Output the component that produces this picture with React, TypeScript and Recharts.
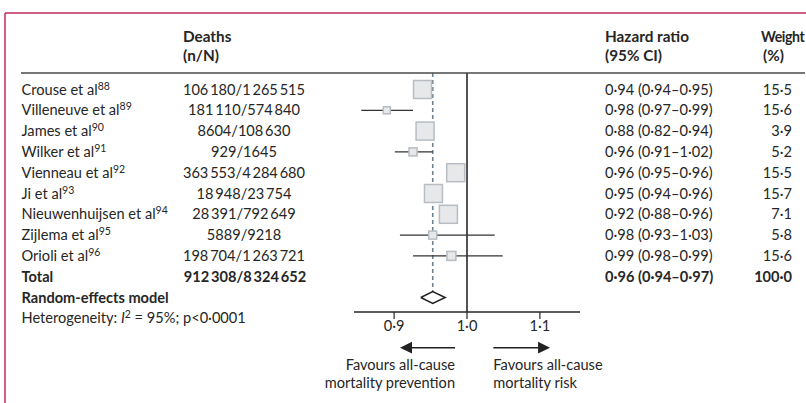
import React from 'react';
import { ComposedChart, Scatter, ErrorBar, XAxis, YAxis, ReferenceLine } from 'recharts';

// table text, as printed
const studyNames = [
  'Crouse et al',
  'Villeneuve et al',
  'James et al',
  'Wilker et al',
  'Vienneau et al',
  'Ji et al',
  'Nieuwenhuijsen et al',
  'Zijlema et al',
  'Orioli et al',
];
const studyRefs = ['88', '89', '90', '91', '92', '93', '94', '95', '96'];
const deathCounts = [
  '106 180/1 265 515',
  '181 110/574 840',
  '8604/108 630',
  '929/1645',
  '363 553/4 284 680',
  '18 948/23 754',
  '28 391/792 649',
  '5889/9218',
  '198 704/1 263 721',
];
const hrLabels = [
  '0·94 (0·94–0·95)',
  '0·98 (0·97–0·99)',
  '0·88 (0·82–0·94)',
  '0·96 (0·91–1·02)',
  '0·96 (0·95–0·96)',
  '0·95 (0·94–0·96)',
  '0·92 (0·88–0·96)',
  '0·98 (0·93–1·03)',
  '0·99 (0·98–0·99)',
];
const weights = ['15·5', '15·6', '3·9', '5·2', '15·5', '15·7', '7·1', '5·8', '15·6'];

const totalDeaths = '912 308/8 324 652';
const totalHr = '0·96 (0·94–0·97)';
const totalWeight = '100·0';

// where the marks sit on the plot
const hrPlotted = [0.939, 0.89, 0.9425, 0.926, 0.9845, 0.954, 0.9745, 0.953, 0.9786];
const ciLowPlotted = [0.934, 0.855, 0.936, 0.901, 0.979, 0.948, 0.969, 0.908, 0.926];
const ciHighPlotted = [0.945, 0.926, 0.949, 0.953, 0.99, 0.96, 0.98, 1.038, 1.049];
const pooledHr = 0.953;
const pooledLow = 0.9366;
const pooledHigh = 0.97;

const xTicks = [0.9, 1.0, 1.1];

// styling
const FONT = 'Lato, "Open Sans", sans-serif';
const INK = '#262626';
const FS = 14.6;
const SUP = 10.5;
const boxPx = [18, 7, 18, 8, 18, 18, 18, 8, 9];
const ROW_TICKS = [0, 1, 2, 3, 4, 5, 6, 7, 8, 9, 10, 11];
const TOTAL_ROW = 9;
const MODEL_ROW = 10;
const HET_ROW = 11;
const ARROW_ROW = 12.41;
const DIAMOND_HALF = 0.28;

const thin = (s: string) => s.replace(/ /g, '\u2009');

const studyPoints = studyNames.map((name, i) => ({
  name,
  x: hrPlotted[i],
  y: i,
  err: [hrPlotted[i] - ciLowPlotted[i], ciHighPlotted[i] - hrPlotted[i]],
  box: boxPx[i],
}));

const diamondPoints = [
  { x: pooledLow, y: MODEL_ROW },
  { x: pooledHr, y: MODEL_ROW - DIAMOND_HALF },
  { x: pooledHigh, y: MODEL_ROW },
  { x: pooledHr, y: MODEL_ROW + DIAMOND_HALF },
  { x: pooledLow, y: MODEL_ROW },
];

const BoxShape = (props: any) => {
  const { cx, cy, payload } = props;
  const s = payload.box;
  return (
    <rect
      x={cx - s / 2}
      y={cy - s / 2}
      width={s}
      height={s}
      fill="#e7e8ea"
      stroke="#b7bdc3"
      strokeWidth={1.5}
    />
  );
};

const NoShape = () => <g />;

function RowTick(props: any) {
  const { y, payload } = props;
  const i = payload.value;
  const base = { y, dy: '0.35em', fontFamily: FONT, fontSize: FS, fill: INK };
  if (i < studyNames.length) {
    return (
      <g>
        <text x={21.5} {...base}>
          {studyNames[i]}
          <tspan dy={-5} fontSize={SUP}>{studyRefs[i]}</tspan>
        </text>
        <text x={244} textAnchor="middle" {...base}>{thin(deathCounts[i])}</text>
        <text x={605} {...base}>{hrLabels[i]}</text>
        <text x={792} textAnchor="end" {...base}>{weights[i]}</text>
      </g>
    );
  }
  if (i === TOTAL_ROW) {
    return (
      <g fontWeight="bold">
        <text x={21.5} {...base}>Total</text>
        <text x={245} textAnchor="middle" {...base}>{thin(totalDeaths)}</text>
        <text x={605} {...base}>{totalHr}</text>
        <text x={792} textAnchor="end" {...base}>{totalWeight}</text>
      </g>
    );
  }
  if (i === MODEL_ROW) {
    return (
      <text x={21.5} {...base} fontWeight="bold">Random-effects model</text>
    );
  }
  if (i === HET_ROW) {
    return (
      <text x={21.5} {...base}>
        Heterogeneity: <tspan fontStyle="italic">I</tspan>
        <tspan dy={-5} fontSize={SUP}>2</tspan>
        <tspan dy={5}> = 95%; p&lt;0·0001</tspan>
      </text>
    );
  }
  return <g />;
}

function FavourArrow(props: any) {
  const { x1, x2, y1, side, lines } = props;
  const head = 12;
  const half = 5.8;
  const t = { fontFamily: FONT, fontSize: FS, fill: INK, dy: '0.35em' };
  if (side === 'left') {
    return (
      <g>
        <line x1={x1 + head} y1={y1} x2={x2} y2={y1} stroke="#222" strokeWidth={1.5} />
        <polygon points={`${x1},${y1} ${x1 + head},${y1 - half} ${x1 + head},${y1 + half}`} fill="#222" />
        <text x={x2} y={y1 + 17.3} textAnchor="end" {...t}>{lines[0]}</text>
        <text x={x2} y={y1 + 35.3} textAnchor="end" {...t}>{lines[1]}</text>
      </g>
    );
  }
  return (
    <g>
      <line x1={x1} y1={y1} x2={x2 - head} y2={y1} stroke="#222" strokeWidth={1.5} />
      <polygon points={`${x2},${y1} ${x2 - head},${y1 - half} ${x2 - head},${y1 + half}`} fill="#222" />
      <text x={x1} y={y1 + 17.3} {...t}>{lines[0]}</text>
      <text x={x1} y={y1 + 35.3} {...t}>{lines[1]}</text>
    </g>
  );
}

export default function App() {
  const head = { fontFamily: FONT, fontSize: 15.3, fontWeight: 'bold' as const, fill: INK };
  return (
    <div style={{ position: 'absolute', left: 0, top: 0, width: 806, height: 403, background: '#fff' }}>
      <ComposedChart width={806} height={403} margin={{ top: 73, right: 226, bottom: 61, left: 0 }}>
        <XAxis
          type="number"
          dataKey="x"
          domain={[0.845, 1.155]}
          allowDataOverflow
          ticks={xTicks}
          interval={0}
          tickFormatter={(v: number) => v.toFixed(1).replace('.', '·')}
          axisLine={{ stroke: INK, strokeWidth: 1.5 }}
          tickLine={{ stroke: INK, strokeWidth: 1.2 }}
          tickSize={7}
          tick={{ fill: INK, fontSize: FS, fontFamily: FONT }}
          height={30}
        />
        <YAxis
          type="number"
          dataKey="y"
          domain={[-0.793, 10.697]}
          allowDataOverflow
          reversed
          ticks={ROW_TICKS}
          interval={0}
          axisLine={false}
          tickLine={false}
          tick={<RowTick />}
          width={354}
        />
        <ReferenceLine
          segment={[
            { x: pooledHr, y: -0.793 },
            { x: pooledHr, y: MODEL_ROW - DIAMOND_HALF },
          ]}
          stroke="#6a8291"
          strokeWidth={1.6}
          strokeDasharray="4 3"
          ifOverflow="visible"
        />
        <ReferenceLine x={1} stroke="#1a1a1a" strokeWidth={1.5} />
        <Scatter data={studyPoints} shape={BoxShape} isAnimationActive={false}>
          <ErrorBar dataKey="err" direction="x" width={0} stroke="#333" strokeWidth={1.3} />
        </Scatter>
        <Scatter
          data={diamondPoints}
          shape={NoShape}
          line={{ stroke: '#222', strokeWidth: 1.5, strokeLinejoin: 'miter' }}
          lineType="joint"
          isAnimationActive={false}
        />
        <ReferenceLine
          segment={[
            { x: 0.9081, y: ARROW_ROW },
            { x: 0.9836, y: ARROW_ROW },
          ]}
          ifOverflow="visible"
          shape={(p: any) => (
            <FavourArrow {...p} side="left" lines={['Favours all-cause', 'mortality prevention']} />
          )}
        />
        <ReferenceLine
          segment={[
            { x: 1.0361, y: ARROW_ROW },
            { x: 1.1139, y: ARROW_ROW },
          ]}
          ifOverflow="visible"
          shape={(p: any) => (
            <FavourArrow {...p} side="right" lines={['Favours all-cause', 'mortality risk']} />
          )}
        />
      </ComposedChart>
      <svg width={806} height={403} style={{ position: 'absolute', left: 0, top: 0, pointerEvents: 'none' }}>
        <line x1={5} y1={13} x2={806} y2={13} stroke="#c02a5a" strokeWidth={1.5} />
        <line x1={5} y1={13} x2={5} y2={403} stroke="#c02a5a" strokeWidth={1.5} />
        <line x1={21} y1={73} x2={805} y2={73} stroke="#4a4a4a" strokeWidth={1.6} />
        <text x={183} y={42} {...head}>Deaths</text>
        <text x={183} y={60.5} {...head}>(n/N)</text>
        <text x={605} y={42} {...head}>Hazard ratio</text>
        <text x={605} y={60.5} {...head}>(95% CI)</text>
        <text x={761} y={42} {...head} fontSize={14.2} letterSpacing={-0.4}>Weight</text>
        <text x={763} y={60.5} {...head}>(%)</text>
      </svg>
    </div>
  );
}
